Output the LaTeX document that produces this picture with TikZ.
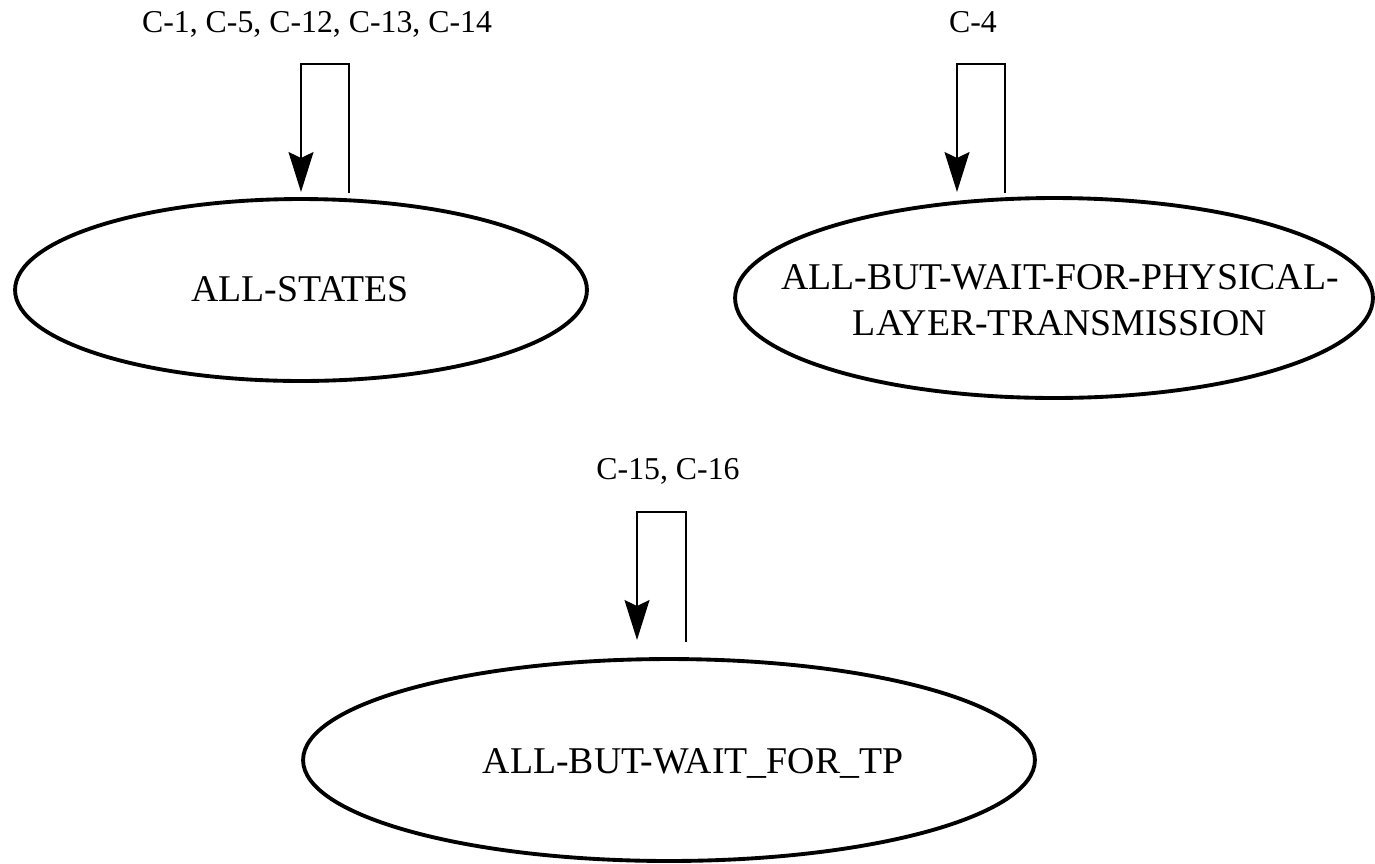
\documentclass[tikz,border=0pt]{standalone}
\usepackage{fontspec}
\setmainfont{Liberation Serif}
\usetikzlibrary{arrows.meta,shapes.geometric}
\tikzset{
  state/.style={draw, ellipse, line width=2.2pt, inner sep=0pt},
  statetext/.style={font=\fontsize{21.5}{26}\selectfont, align=center},
  looplabel/.style={font=\fontsize{18.1}{22}\selectfont, anchor=base},
  selfloop/.style={line width=0.85pt, -{Stealth[length=0.8cm, width=0.5cm, inset=0.12cm]}},
}
\begin{document}
\begin{tikzpicture}[x=0.02cm, y=-0.02cm]
\useasboundingbox (0,0) rectangle (1375,863);

\node [state, minimum width=11.44cm, minimum height=3.64cm] (allstates) at (301,290) {};
\node [statetext, anchor=base] (allstatestxt) at (300,301) {ALL-STATES};
\node [looplabel] (lblallstates) at (317,32) {C-1, C-5, C-12, C-13, C-14};
\coordinate (a1) at (349,193);
\coordinate (a2) at (301,64);
\coordinate (a3) at (301,192);
\draw [selfloop] (a1) |- (a2) -- (a3);

\node [state, minimum width=12.76cm, minimum height=4cm] (notphys) at (1054,298) {};
\node [statetext] (notphystxt) at (1060,300) {ALL-BUT-WAIT-FOR-PHYSICAL-\\LAYER-TRANSMISSION};
\node [looplabel] (lblnotphys) at (973,32) {C-4};
\coordinate (b1) at (1005,193);
\coordinate (b2) at (957,64);
\coordinate (b3) at (957,192);
\draw [selfloop] (b1) |- (b2) -- (b3);

\node [state, minimum width=14.64cm, minimum height=4.04cm] (nottp) at (669,760) {};
\node [statetext, anchor=base] (nottptxt) at (693,773) {ALL-BUT-WAIT\_FOR\_TP};
\node [looplabel] (lblnottp) at (668,479) {C-15, C-16};
\coordinate (c1) at (686,642);
\coordinate (c2) at (637,512);
\coordinate (c3) at (637,640);
\draw [selfloop] (c1) |- (c2) -- (c3);
\end{tikzpicture}
\end{document}
